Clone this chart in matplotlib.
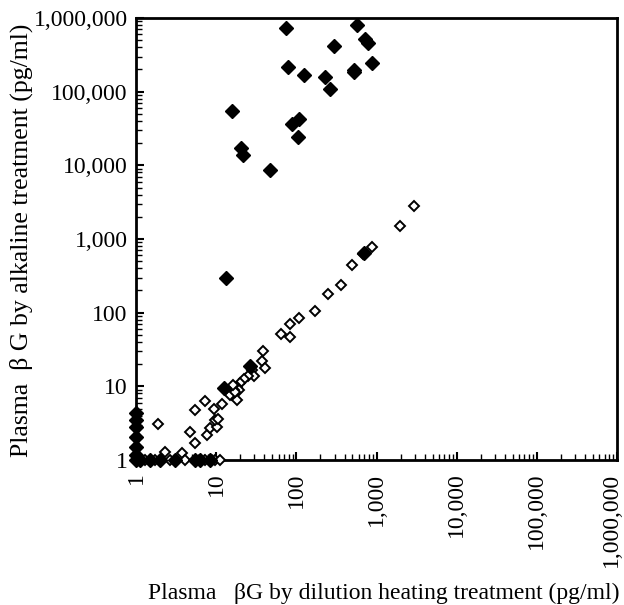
import matplotlib
matplotlib.use("Agg")
import matplotlib.pyplot as plt
import matplotlib.transforms as mtransforms
from matplotlib.ticker import LogLocator, NullFormatter

# Filled diamonds (dilution heating x, alkaline y)
filled_x = [75, 575, 728, 780, 299, 79, 123, 230, 261, 531, 520, 886, 15.7, 88, 109, 104,
            20.4, 21.5, 47, 13.2, 26.6, 690, 12.5,
            1, 1, 1, 1, 1, 1, 1,
            1.12, 1.5, 2.0, 3.07, 5.46, 6.3, 8.4]
filled_y = [742000, 800000, 517000, 460000, 420000, 218000, 170000, 156000, 110000, 196000,
            186000, 245000, 55000, 36000, 42000, 24500, 17300, 13800, 8600, 297, 19, 640, 9.5,
            1.0, 1.17, 1.5, 2.05, 2.8, 3.5, 4.3,
            1, 1, 1, 1, 1, 1, 1]

# Open diamonds
open_x = [2925, 1950, 890, 680, 500, 363, 246, 173, 107, 83, 64.5, 84, 38, 37, 41, 27.9, 30,
          25, 22, 20, 18, 19, 16.5, 15.7, 18, 1.88, 5.4, 7.2, 4.7, 5.4, 7.7, 8.3, 10.1, 9.6,
          10.6, 9.4, 11.7, 12.8, 14.9, 17, 16.3, 2.3, 3.7,
          1.3, 1.73, 2.66, 4.1, 7.3, 9.7, 11.2]
open_y = [2790, 1500, 770, 620, 437, 240, 182, 105, 84, 70, 51, 47, 30, 22, 18, 16.6, 14,
          13.8, 12.4, 11, 9.9, 8.9, 8.9, 7.6, 6.5, 3.05, 4.8, 6.3, 2.4, 1.7, 2.2, 2.7, 2.8, 3.5,
          3.6, 5.0, 5.7, 8.9, 7.6, 8.4, 10.4, 1.3, 1.24,
          1, 1, 1, 1, 1, 1, 1]

major_ticks = [1, 10, 100, 1000, 10000, 100000, 1000000]
tick_labels = ["1", "10", "100", "1,000", "10,000", "100,000", "1,000,000"]

xlabel = "Plasma   \u03b2G by dilution heating treatment (pg/ml)"
ylabel = "Plasma  \u03b2 G by alkaline treatment (pg/ml)"

plt.rcParams['font.family'] = ['Liberation Serif', 'DejaVu Serif']

fig = plt.figure(figsize=(6.24, 6.05), dpi=100)
ax = fig.add_axes([136/624, 1 - 460/605, 481/624, 442/605])

ax.set_xscale('log')
ax.set_yscale('log')
ax.set_xlim(1, 1e6)
ax.set_ylim(1, 1e6)

ax.plot(open_x, open_y, linestyle='none', marker='D', ms=5.5, mfc='white', mec='black',
        mew=1.4, clip_on=False, zorder=3)
ax.plot(filled_x, filled_y, linestyle='none', marker='D', ms=7, mfc='black', mec='black',
        clip_on=False, zorder=4)

for axis in (ax.xaxis, ax.yaxis):
    axis.set_major_locator(plt.FixedLocator(major_ticks))
    axis.set_major_formatter(plt.FixedFormatter(tick_labels))
    axis.set_minor_locator(LogLocator(base=10, subs=range(2, 10), numticks=20))
    axis.set_minor_formatter(NullFormatter())

ax.tick_params(axis='both', which='major', direction='in', length=6, width=1.5,
               top=False, right=False, labelsize=17)
ax.tick_params(axis='both', which='minor', direction='in', length=4, width=1.0,
               top=False, right=False)
ax.tick_params(axis='y', which='major', pad=6)
ax.tick_params(axis='x', which='major', pad=9)
xtl = ax.get_xticklabels()
for lab in xtl:
    lab.set_rotation(90)
    lab.set_va('top')
    lab.set_ha('center')
# keep the last label inside the image
xtl[-1].set_transform(xtl[-1].get_transform() +
                      mtransforms.ScaledTranslation(-6/100, 0, fig.dpi_scale_trans))

for s in ax.spines.values():
    s.set_linewidth(2.0)

ax.set_xlabel(xlabel, fontsize=17)
ax.set_ylabel(ylabel, fontsize=18.5)
ax.xaxis.set_label_coords(0.516, -0.301)
ax.yaxis.set_label_coords(-0.239, 0.498)
ax.xaxis.label.set_va('center')
ax.yaxis.label.set_va('center')

fig.savefig("out.png", dpi=100)
